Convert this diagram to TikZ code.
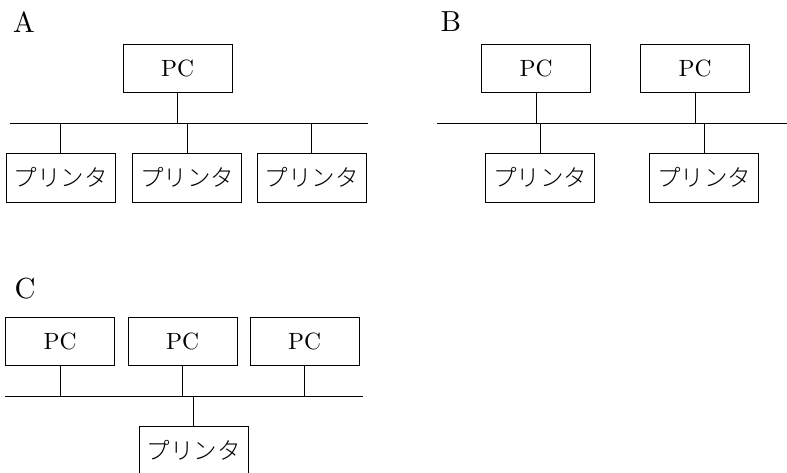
\documentclass[tikz,border=0pt]{standalone}
\usepackage{fontspec}
\setmainfont{lmroman10-regular}[Extension=.otf]
\newfontfamily\jpfont{Noto Sans CJK JP Light}
\begin{document}
\begin{tikzpicture}[x=1pt,y=-1pt,
  line width=0.8pt,
  box/.style={draw,rectangle,inner sep=0pt,minimum width=109pt,minimum height=48pt},
  pcbox/.style={box,font=\fontsize{23.5}{23.5}\selectfont},
  prbox/.style={box,minimum height=49pt,font=\jpfont\fontsize{23.5}{23.5}\selectfont},
  panellabel/.style={inner sep=0pt,font=\fontsize{29}{29}\selectfont}]
\useasboundingbox (0,0) rectangle (787,473);
\clip (0,0) rectangle (787,473);

% ---- Panel A ----
\node[panellabel] (labA) at (24,22) {A};
\node[pcbox] (pcA) at (177.5,68) {PC};
\coordinate (busAl) at (10,123);
\coordinate (busAr) at (368,123);
\draw (busAl) -- (busAr);
\node[prbox] (prA1) at (60.5,177.5) {プリンタ};
\node[prbox] (prA2) at (187,177.5) {プリンタ};
\node[prbox] (prA3) at (311.5,177.5) {プリンタ};
\draw (pcA.south) -- (pcA.south |- busAl);
\draw (prA1.north) -- (prA1.north |- busAl);
\draw (prA2.north) -- (prA2.north |- busAl);
\draw (prA3.north) -- (prA3.north |- busAl);

% ---- Panel B ----
\node[panellabel] (labB) at (451,22) {B};
\node[pcbox] (pcB1) at (536,68) {PC};
\node[pcbox] (pcB2) at (695,68) {PC};
\coordinate (busBl) at (437,123);
\coordinate (busBr) at (787,123);
\draw (busBl) -- (busBr);
\node[prbox] (prB1) at (540,177.5) {プリンタ};
\node[prbox] (prB2) at (704,177.5) {プリンタ};
\draw (pcB1.south) -- (pcB1.south |- busBl);
\draw (pcB2.south) -- (pcB2.south |- busBl);
\draw (prB1.north) -- (prB1.north |- busBl);
\draw (prB2.north) -- (prB2.north |- busBl);

% ---- Panel C ----
\node[panellabel] (labC) at (25,289) {C};
\node[pcbox] (pcC1) at (60,341) {PC};
\node[pcbox] (pcC2) at (182.5,341) {PC};
\node[pcbox] (pcC3) at (304.5,341) {PC};
\coordinate (busCl) at (5,396);
\coordinate (busCr) at (363,396);
\draw (busCl) -- (busCr);
\node[prbox] (prC) at (193.5,450.5) {プリンタ};
\draw (pcC1.south) -- (pcC1.south |- busCl);
\draw (pcC2.south) -- (pcC2.south |- busCl);
\draw (pcC3.south) -- (pcC3.south |- busCl);
\draw (prC.north) -- (prC.north |- busCl);
\end{tikzpicture}
\end{document}
